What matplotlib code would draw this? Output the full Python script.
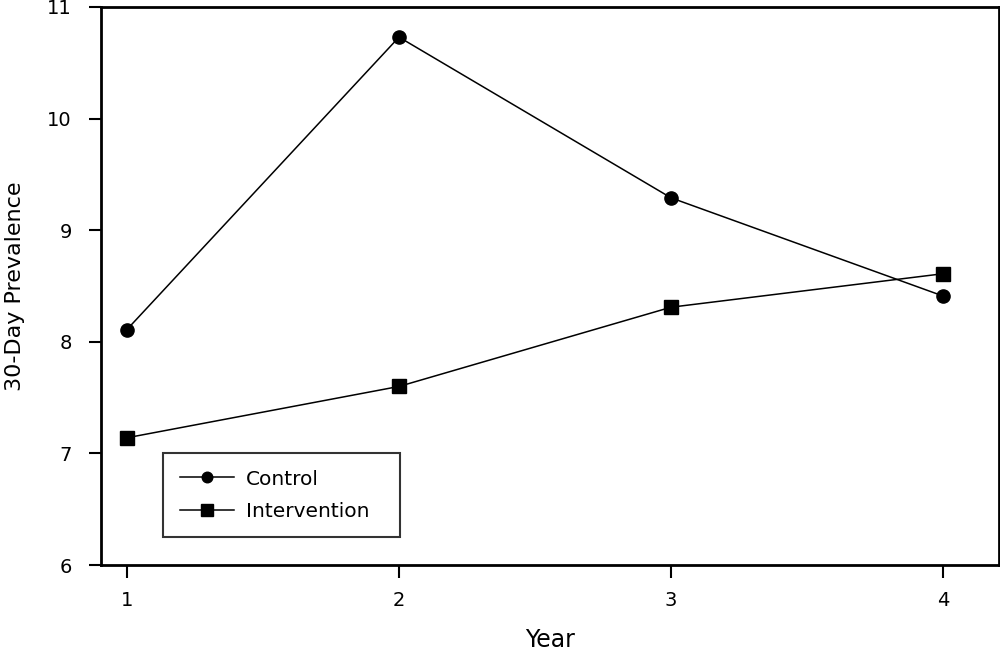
import matplotlib
matplotlib.use("Agg")
import matplotlib.pyplot as plt

years = [1, 2, 3, 4]
control = [8.11, 10.73, 9.29, 8.41]
intervention = [7.14, 7.60, 8.31, 8.61]
xticks = [1, 2, 3, 4]
yticks = [6, 7, 8, 9, 10, 11]

plt.rcParams['font.family'] = ['DejaVu Sans']

fig = plt.figure(figsize=(10, 6.53), dpi=100)
W, H = 1000, 653
left, right, top, bottom = 101, 999, 7, 565
ax = fig.add_axes([left / W, 1 - bottom / H, (right - left) / W, (bottom - top) / H])

ax.plot(years, control, color='black', lw=1.1, marker='o', ms=9.5, label='Control')
ax.plot(years, intervention, color='black', lw=1.1, marker='s', ms=10, label='Intervention')

ax.set_xlim(1 - 26 / 272.5, 4 + 56 / 272.5)
ax.set_ylim(6, 11)
ax.set_xticks(xticks)
ax.set_yticks(yticks)
ax.tick_params(direction='out', length=9, width=1.5, labelsize=14, colors='black')
ax.tick_params(axis='x', pad=10)
ax.tick_params(axis='y', pad=12)
for s in ax.spines.values():
    s.set_linewidth(2)

ax.set_xlabel('Year', fontsize=17, labelpad=13)
ax.set_ylabel('30-Day Prevalence', fontsize=16, labelpad=16)

leg = ax.legend(loc='upper left',
                bbox_to_anchor=((163 - left) / (right - left), (565 - 453) / (bottom - top),
                                (400 - 163) / (right - left), 0.0),
                mode='expand', fontsize=14.5, frameon=True, fancybox=False, edgecolor='black',
                handlelength=2.7, borderaxespad=0, borderpad=0.82, labelspacing=0.65,
                handletextpad=0.6, markerscale=0.8)
leg.get_frame().set_linewidth(1.5)

fig.savefig('out.png', dpi=100)
